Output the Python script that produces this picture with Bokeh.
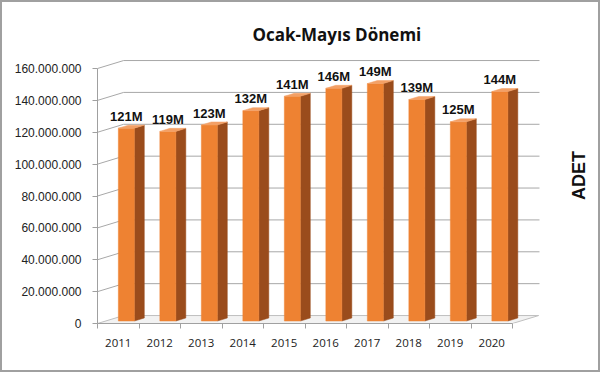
import math
from bokeh.plotting import figure
from bokeh.models import FixedTicker, Range1d, ColumnDataSource
from bokeh.embed import file_html
from bokeh.resources import INLINE
from bokeh.core.properties import value

# ---- data ----
years = ["2011", "2012", "2013", "2014", "2015", "2016", "2017", "2018", "2019", "2020"]
counts = [121e6, 119e6, 123e6, 132e6, 141e6, 146e6, 149e6, 139e6, 125e6, 144e6]
bar_labels = ["121M", "119M", "123M", "132M", "141M", "146M", "149M", "139M", "125M", "144M"]
y_ticks = [0, 20000000, 40000000, 60000000, 80000000, 100000000, 120000000, 140000000, 160000000]
y_tick_labels = ["0", "20.000.000", "40.000.000", "60.000.000", "80.000.000",
                 "100.000.000", "120.000.000", "140.000.000", "160.000.000"]
title_text = "Ocak-Mayıs Dönemi"
axis_title = "ADET"

# ---- 3D styling constants ----
N = len(years)
DX = 0.63          # depth offset in x data units
DY = 5.0e6         # depth offset in y data units
BAR_W = 0.386
F1, F2 = 0.31, 0.69
WALL_END = N + 0.65
X_END = 12.072
Y_END = 165.65e6

FRONT = "#EE8232"
SIDE = "#9A4C1C"
TOP = "#F3A066"
GRID = "#A8A8A8"

p = figure(frame_width=501, frame_height=264, output_backend="svg", toolbar_location=None,
           x_range=Range1d(0, X_END), y_range=Range1d(0, Y_END),
           min_border_left=95, min_border_right=0, min_border_top=57, min_border_bottom=47)
p.styles = {"border": "2px solid #A0A0A0", "box-sizing": "content-box"}
p.outline_line_color = None
p.grid.visible = False
p.background_fill_color = "white"
p.border_fill_color = "white"

# title
p.title.text = title_text
p.title.align = "left"
p.title.offset = 155
p.title.text_font = "Open Sans"
p.title.text_font_size = "17px"
p.title.text_font_style = "bold"
p.title.text_color = "#111111"
p.title.standoff = 27

# floor
p.patch([0, N, N + DX, DX], [0, 0, DY, DY], fill_color="#F2F2F2", line_color="#BFBFBF", line_width=1)

# back wall + side wall gridlines
gx, gy = [], []
for t in y_ticks[1:]:
    gx.append([0, DX, WALL_END])
    gy.append([t, t + DY, t + DY])
p.multi_line(gx, gy, line_color=GRID, line_width=1)

# bars
fl, fr, fb, ft = [], [], [], []
sx, sy, tx, ty = [], [], [], []
lx, ly = [], []
dd = (F2 - F1) * DX
for i, v in enumerate(counts):
    left = i + 0.5 - BAR_W / 2 + F1 * DX
    right = left + BAR_W
    fl.append(left); fr.append(right); fb.append(F1 * DY); ft.append(v + F1 * DY)
    sx.append([right, right, right + dd, right + dd])
    sy.append([F1 * DY, v + F1 * DY, v + F2 * DY, F2 * DY])
    tx.append([left, right, right + dd, left + dd])
    ty.append([v + F1 * DY, v + F1 * DY, v + F2 * DY, v + F2 * DY])
    lx.append((left + right) / 2)
    ly.append(v + F1 * DY)

p.patches(sx, sy, fill_color=SIDE, line_color=SIDE, line_width=0.5)
p.quad(left=fl, right=fr, bottom=fb, top=ft, fill_color=FRONT, line_color=FRONT, line_width=0.5)
p.patches(tx, ty, fill_color=TOP, line_color=TOP, line_width=0.5)

lsrc = ColumnDataSource(dict(x=lx, y=ly, t=bar_labels))
p.text(x="x", y="y", text="t", source=lsrc, text_align="center", text_baseline="middle",
       y_offset=-12, text_font=value("Liberation Sans"), text_font_size="13px",
       text_font_style="bold", text_color="#111111")

# vertical axis title at the right (reads bottom to top)
p.text(x=[N + 1.61], y=[92.9e6], text=[axis_title], angle=math.pi / 2,
       text_align="center", text_baseline="middle",
       text_font=value("Liberation Sans"), text_font_size="18px", text_font_style="bold",
       text_color="#111111")

# x axis
xa = p.xaxis[0]
centers = [i + 0.5 for i in range(N)]
xa.ticker = FixedTicker(ticks=centers, minor_ticks=list(range(N + 1)))
xa.major_label_overrides = {c: y for c, y in zip(centers, years)}
xa.bounds = (0, N)
xa.axis_line_color = "#A0A0A0"
xa.major_tick_out = 0
xa.major_tick_in = 0
xa.minor_tick_out = 5
xa.minor_tick_in = 0
xa.minor_tick_line_color = "#A0A0A0"
xa.major_label_standoff = 10
xa.major_label_text_font = "Open Sans"
xa.major_label_text_font_size = "11.5px"
xa.major_label_text_color = "#222222"

# y axis
ya = p.yaxis[0]
ya.ticker = FixedTicker(ticks=y_ticks)
ya.major_label_overrides = {t: s for t, s in zip(y_ticks, y_tick_labels)}
ya.bounds = (0, 160e6)
ya.axis_line_color = "#A0A0A0"
ya.major_tick_out = 5
ya.major_tick_in = 0
ya.major_tick_line_color = "#A0A0A0"
ya.minor_tick_line_color = None
ya.major_label_standoff = 11
ya.major_label_text_font = "Liberation Sans"
ya.major_label_text_font_size = "12px"
ya.major_label_text_color = "#222222"

open("out.html", "w").write(file_html(p, INLINE))
